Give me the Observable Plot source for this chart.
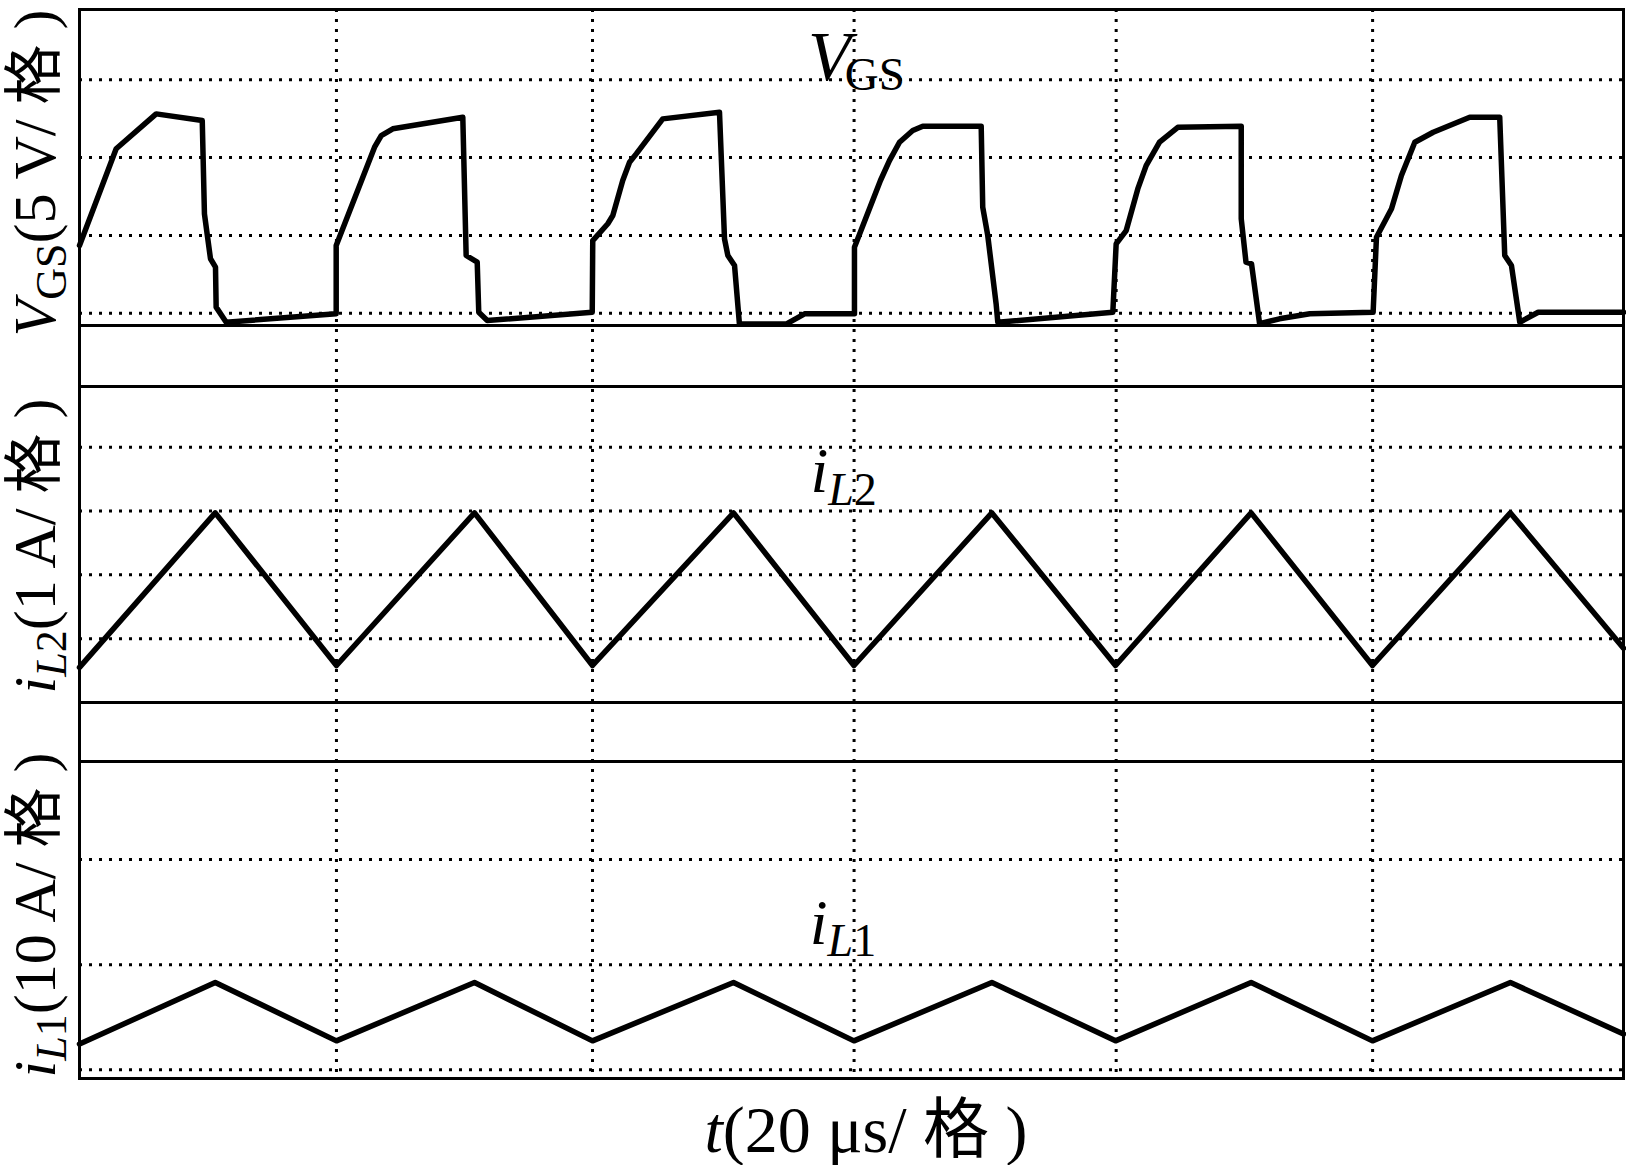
<!DOCTYPE html>
<html><head><meta charset="utf-8">
<script src="https://cdn.jsdelivr.net/npm/d3@7"></script>
<script src="https://cdn.jsdelivr.net/npm/@observablehq/plot@0.6"></script>
<style>
html,body{margin:0;padding:0;background:#fff;}
#wrap{position:relative;width:1626px;height:1165px;overflow:hidden;background:#fff;}
#wrap svg{position:absolute;left:0;top:0;}
</style></head><body><div id="wrap"></div>
<script>
// ---- data (time in µs, 20 µs per division) ----
const timeDomain = [0, 120];
const gridT = [19.97, 39.87, 60.2, 80.57, 100.5];

// V_GS (V), 5 V/格
const vgsTicks = [0, 5, 10, 15];
const vgsDomain = [-0.79, 19.52];
const vgsT = [0, 2.85, 5.96, 9.54, 9.71, 10.18, 10.57, 10.62, 11.40, 19.95,
  19.95, 22.93, 23.45, 24.35, 29.79, 30.05, 30.91, 31.03, 31.69, 39.85,
  39.89, 41.06, 41.45, 42.22, 42.75, 43.27, 45.33, 49.74, 50.13, 50.39, 50.91, 51.29, 54.92, 56.35, 60.23,
  60.23, 62.25, 62.95, 63.73, 64.76, 65.54, 70.08, 70.20, 70.59, 71.24, 71.37, 80.31,
  80.57, 81.35, 82.25, 82.90, 83.94, 85.36, 90.29, 90.29, 90.66, 91.09, 91.72, 93.26, 95.62, 100.54,
  100.80, 101.97, 102.74, 103.78, 105.21, 108.05, 110.38, 110.77, 111.29, 111.94, 113.37, 120];
const vgsV = [4.35, 10.57, 12.81, 12.38, 6.39, 3.50, 2.96, 0.39, -0.58, -0.04,
  4.35, 10.67, 11.42, 11.85, 12.60, 3.71, 3.28, 0.06, -0.47, 0.06,
  4.67, 5.75, 6.28, 8.53, 9.70, 10.24, 12.49, 12.92, 4.78, 3.71, 3.07, -0.70, -0.70, -0.04, -0.04,
  4.24, 8.53, 9.81, 10.99, 11.74, 12.02, 12.02, 6.81, 4.99, 0.60, -0.58, 0.06,
  4.46, 5.31, 7.99, 9.49, 10.99, 11.95, 12.02, 6.07, 3.28, 3.17, -0.68, -0.36, -0.04, 0.06,
  4.88, 6.71, 8.85, 10.99, 11.63, 12.60, 12.60, 3.71, 3.07, -0.58, 0.06, 0.06];

// i_L2 (A), 1 A/格
const il2Ticks = [1, 2, 3, 4];
const il2Domain = [0, 4.95];
const il2T = [0, 10.55, 19.97, 30.70, 39.87, 50.83, 60.19, 70.91, 80.52, 91.06, 100.49, 111.21, 120];
const il2I = [0.55, 2.97, 0.58, 2.97, 0.58, 2.97, 0.58, 2.97, 0.58, 2.97, 0.58, 2.97, 0.85];

// i_L1 (A), 10 A/格
const il1Ticks = [0, 10, 20];
const il1Domain = [-0.83, 29.32];
const il1T = [0, 10.55, 19.97, 30.70, 39.87, 50.83, 60.19, 70.91, 80.52, 91.06, 100.49, 111.21, 120];
const il1I = [2.45, 8.3, 2.75, 8.3, 2.75, 8.3, 2.75, 8.3, 2.75, 8.3, 2.75, 8.3, 3.4];

// trace label anchors (t, value)
const traceLabelT = [56.66, 56.85, 56.8];
const traceLabelY = [14.96, 3.29, 11.91];

// ---- layout ----
const W = 1626, ML = 79, MR = 3;
const FONT = '"Liberation Serif", "Times New Roman", "Noto Sans CJK SC", serif';
const wrap = document.getElementById("wrap");

const bg = Plot.plot({
  width: W, height: 1165, marginLeft: ML, marginRight: MR, marginTop: 9, marginBottom: 87,
  x: {domain: timeDomain, axis: null}, y: {domain: [0, 1], axis: null},
  style: {background: "transparent"},
  marks: [
    Plot.ruleX(gridT, {stroke: "black", strokeWidth: 3, strokeDasharray: "3,7"}),
    Plot.ruleX(timeDomain, {stroke: "black", strokeWidth: 3})
  ]
});
wrap.append(bg);

function panel(top, bottom, domain, ticks, t, v) {
  const data = t.map((d, i) => ({t: d, v: v[i]}));
  const p = Plot.plot({
    width: W, height: bottom + 6, marginLeft: ML, marginRight: MR, marginTop: top, marginBottom: 6,
    x: {domain: timeDomain, axis: null}, y: {domain, axis: null},
    style: {background: "transparent"},
    marks: [
      Plot.ruleY(ticks, {stroke: "black", strokeWidth: 3, strokeDasharray: "3,7"}),
      Plot.frame({stroke: "black", strokeWidth: 3}),
      Plot.line(data, {x: "t", y: "v", stroke: "black", strokeWidth: 5.5, strokeLinejoin: "round"})
    ]
  });
  wrap.append(p);
  return p;
}

const p1 = panel(9, 325, vgsDomain, vgsTicks, vgsT, vgsV);
const p2 = panel(386, 702, il2Domain, il2Ticks, il2T, il2I);
const p3 = panel(761, 1078, il1Domain, il1Ticks, il1T, il1I);

function addText(svg, {x, y, rotate = 0, anchor = "start", size, parts}) {
  const text = d3.select(svg).append("text")
    .attr("x", x).attr("y", y).attr("text-anchor", anchor)
    .style("font-family", FONT).style("font-size", size + "px").style("fill", "black");
  if (rotate) text.attr("transform", `rotate(${rotate},${x},${y})`);
  for (const p of parts) {
    const ts = text.append("tspan").text(p.text);
    ts.style("font-style", p.italic ? "italic" : "normal");
    if (p.size) ts.style("font-size", p.size + "px");
    if (p.dy) ts.attr("dy", p.dy);
    if (p.dx) ts.attr("dx", p.dx);
  }
}

// trace labels, positioned through each panel's scales
const traceLabels = [
  {p: p1, parts: [{text: "V", italic: true, size: 70}, {text: "GS", size: 47, dy: 10, dx: -6}]},
  {p: p2, parts: [{text: "i", italic: true, size: 64}, {text: "L", italic: true, size: 46, dy: 13}, {text: "2", size: 46}]},
  {p: p3, parts: [{text: "i", italic: true, size: 64}, {text: "L", italic: true, size: 46, dy: 12}, {text: "1", size: 46}]}
];
traceLabels.forEach((d, i) => {
  const x = d.p.scale("x").apply(traceLabelT[i]);
  const y = d.p.scale("y").apply(traceLabelY[i]);
  addText(d.p, {x, y, size: 64, parts: d.parts});
});

// rotated y-axis labels
const YLX = 55;
addText(bg, {x: YLX, y: 173, rotate: -90, anchor: "middle", size: 60, parts: [
  {text: "V", italic: true}, {text: "GS", size: 44, dy: 11}, {text: "(5 V/ 格 )", dy: -11}]});
addText(bg, {x: YLX, y: 546, rotate: -90, anchor: "middle", size: 60, parts: [
  {text: "i", italic: true}, {text: "L", italic: true, size: 44, dy: 11}, {text: "2", size: 44}, {text: "(1 A/ 格 )", dy: -11}]});
addText(bg, {x: YLX, y: 915, rotate: -90, anchor: "middle", size: 60, parts: [
  {text: "i", italic: true}, {text: "L", italic: true, size: 44, dy: 11}, {text: "1", size: 44}, {text: "(10 A/ 格 )", dy: -11}]});

// x-axis label
addText(bg, {x: 866, y: 1152, anchor: "middle", size: 66, parts: [
  {text: "t", italic: true}, {text: "(20 μs/ 格 )"}]});
</script></body></html>
